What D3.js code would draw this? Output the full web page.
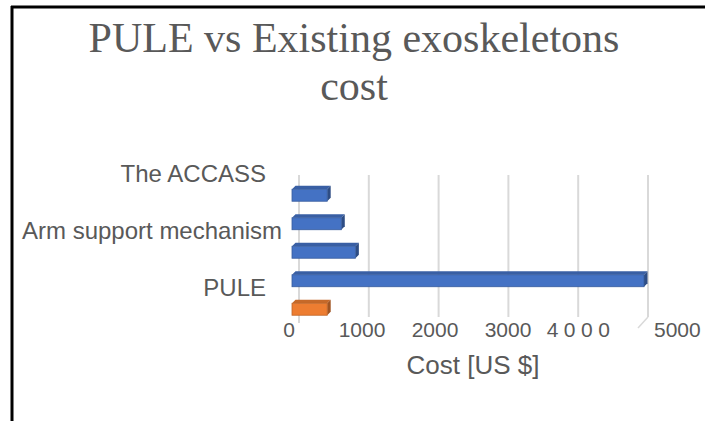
<!DOCTYPE html>
<html>
<head>
<meta charset="utf-8">
<script src="https://cdn.jsdelivr.net/npm/d3@7"></script>
<style>
  body { margin: 0; background: #fff; }
  svg { display: block; }
</style>
</head>
<body>
<svg id="chart" width="705" height="421"></svg>
<script>
// Chart data (bottom to top, as the bars are drawn)
// only every other category label is shown in the original chart
var categories = ["PULE", "", "Arm support mechanism", "", "The ACCASS"];
var costs = [500, 5000, 900, 700, 500];
var barColors = ["#ED7D31", "#4472C4", "#4472C4", "#4472C4", "#4472C4"];
var tickValues = [0, 1000, 2000, 3000, 4000, 5000];
var tickLabels = ["0", "1000", "2000", "3000", "4000", "5000"];
var titleLines = ["PULE vs Existing exoskeletons", "cost"];
var axisTitle = "Cost [US $]";

var svg = d3.select("#chart");
var W = 705, H = 421;
var textGray = "#595959";
var depth = 3.5;

// frame (top and left edge only, as in the picture)
svg.append("line").attr("x1", 11).attr("x2", W).attr("y1", 7).attr("y2", 7)
  .attr("stroke", "#000").attr("stroke-width", 3);
svg.append("line").attr("x1", 12).attr("x2", 12).attr("y1", 6).attr("y2", H)
  .attr("stroke", "#000").attr("stroke-width", 3);

// title
svg.selectAll("text.title")
  .data(titleLines)
  .enter().append("text")
  .attr("class", "title")
  .attr("x", 354)
  .attr("y", function(d, i) { return 52 + i * 48; })
  .attr("text-anchor", "middle")
  .attr("font-family", "'Liberation Serif', 'Times New Roman', serif")
  .attr("font-size", 42)
  .attr("fill", textGray)
  .text(function(d) { return d; });

// scales: bars sit on the front plane, gridlines on the back wall
var xFront = d3.scaleLinear().domain([0, 5000]).range([292, 644]);
var xBack = d3.scaleLinear().domain([0, 5000]).range([299, 648]);
var xTick = d3.scaleLinear().domain([0, 5000]).range([289, 654]);
var y = d3.scaleBand()
  .domain(d3.range(categories.length))
  .range([323.5, 181])
  .paddingInner(0.58)
  .paddingOuter(0.29);

// gridlines
svg.selectAll("line.grid")
  .data(tickValues)
  .enter().append("line")
  .attr("class", "grid")
  .attr("x1", function(d) { return xBack(d); })
  .attr("x2", function(d) { return xBack(d); })
  .attr("y1", 175)
  .attr("y2", function(d) { return d === 0 ? 323 : 317; })
  .attr("stroke", "#D9D9D9")
  .attr("stroke-width", 2);

// floor edge at the right
svg.append("line")
  .attr("x1", xBack(5000)).attr("y1", 317)
  .attr("x2", xBack(5000) - 10).attr("y2", 328)
  .attr("stroke", "#D9D9D9").attr("stroke-width", 1.5);

// 3D bars
var bars = svg.selectAll("g.bar")
  .data(costs)
  .enter().append("g")
  .attr("class", "bar");

function shade(c, k) { return d3.color(c).darker(k).formatHex(); }

bars.append("path") // top face
  .attr("d", function(d, i) {
    var x0 = xFront(0), x1 = xFront(d), t = y(i);
    return "M" + x0 + "," + t + "L" + (x0 + depth) + "," + (t - depth) +
      "L" + (x1 + depth) + "," + (t - depth) + "L" + x1 + "," + t + "Z";
  })
  .attr("fill", function(d, i) { return shade(barColors[i], 0.5); });

bars.append("path") // side face
  .attr("d", function(d, i) {
    var x1 = xFront(d), t = y(i), h = y.bandwidth();
    return "M" + x1 + "," + t + "L" + (x1 + depth) + "," + (t - depth) +
      "L" + (x1 + depth) + "," + (t + h - depth) + "L" + x1 + "," + (t + h) + "Z";
  })
  .attr("fill", function(d, i) { return shade(barColors[i], 1.1); });

bars.append("rect") // front face
  .attr("x", xFront(0))
  .attr("y", function(d, i) { return y(i); })
  .attr("width", function(d) { return xFront(d) - xFront(0); })
  .attr("height", y.bandwidth())
  .attr("fill", function(d, i) { return barColors[i]; })
  .attr("stroke", function(d, i) { return shade(barColors[i], 0.6); })
  .attr("stroke-width", 0.8);

// category labels, right aligned, pushed right if they would hit the frame
var catLabels = svg.selectAll("text.cat")
  .data(categories)
  .enter().append("text")
  .attr("class", "cat")
  .attr("y", function(d, i) { return y(i) + y.bandwidth() / 2 - 13; })
  .attr("text-anchor", "end")
  .attr("font-family", "'Liberation Sans', Arial, sans-serif")
  .attr("font-size", 24)
  .attr("fill", textGray)
  .text(function(d) { return d; });
catLabels.attr("x", function() {
  var w = this.getComputedTextLength();
  return Math.max(266, 22 + w);
});

// tick labels
svg.selectAll("text.tick")
  .data(tickValues)
  .enter().append("text")
  .attr("class", "tick")
  .attr("x", function(d) { return xTick(d); })
  .attr("y", 337)
  .attr("text-anchor", function(d, i) { return i === tickValues.length - 1 ? "start" : "middle"; })
  .attr("letter-spacing", function(d, i) { return i === 4 ? 5.5 : 0; })
  .attr("font-family", "'Liberation Sans', Arial, sans-serif")
  .attr("font-size", 21)
  .attr("fill", textGray)
  .text(function(d, i) { return tickLabels[i]; });

// axis title
svg.append("text")
  .attr("x", 473)
  .attr("y", 374)
  .attr("text-anchor", "middle")
  .attr("font-family", "'Liberation Sans', Arial, sans-serif")
  .attr("font-size", 26)
  .attr("fill", textGray)
  .text(axisTitle);
</script>
</body>
</html>
